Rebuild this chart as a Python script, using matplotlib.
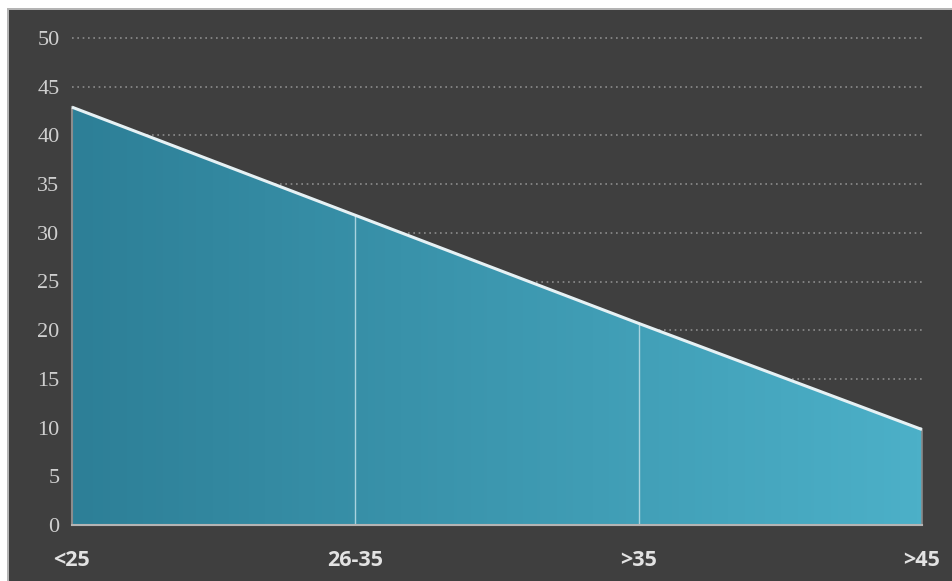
import numpy as np
import matplotlib
matplotlib.use("Agg")
import matplotlib.pyplot as plt
from matplotlib.patches import Rectangle, Polygon
from matplotlib.colors import LinearSegmentedColormap

# Age bands and their values
categories = ["<25", "26-35", ">35", ">45"]
values = [42.9, 31.8, 20.7, 9.8]
y_ticks = [0, 5, 10, 15, 20, 25, 30, 35, 40, 45, 50]

BG = "#3f3f3f"
W, H = 953, 581
fig = plt.figure(figsize=(W / 100, H / 100), dpi=100, facecolor=BG)

# Light frame strip along top and left edges
fig.patches.append(Rectangle((0, 1 - 8 / H), 1, 8 / H, transform=fig.transFigure,
                             facecolor="#ffffff", edgecolor="none", zorder=0))
fig.patches.append(Rectangle((0, 0), 7 / W, 1, transform=fig.transFigure,
                             facecolor="#ffffff", edgecolor="none", zorder=0))
fig.patches.append(Rectangle((7 / W, 0), 2 / W, 1 - 8 / H, transform=fig.transFigure,
                             facecolor="#b4b4b4", edgecolor="none", zorder=0))
fig.patches.append(Rectangle((7 / W, 1 - 10 / H), 1, 2 / H, transform=fig.transFigure,
                             facecolor="#b4b4b4", edgecolor="none", zorder=0))

left, right, bottom, top = 72, 922, 525, 38
ax = fig.add_axes([left / W, 1 - bottom / H, (right - left) / W, (bottom - top) / H])
ax.set_facecolor(BG)

x = np.arange(len(categories))
ax.set_xlim(x[0], x[-1])
ax.set_ylim(0, 50)

# Dotted horizontal gridlines
for yv in y_ticks[1:]:
    ax.axhline(yv, color="#8c8c8c", linewidth=1.2, linestyle=(0, (1, 2.2)), zorder=1, clip_on=False)

# Gradient-filled area under the line
cmap = LinearSegmentedColormap.from_list("teal", ["#2d7f97", "#4cb0c8"])
grad = np.linspace(0, 1, 256).reshape(1, -1)
img = ax.imshow(grad, cmap=cmap, aspect="auto", extent=[x[0], x[-1], 0, 50],
                origin="lower", zorder=2, interpolation="bilinear")
poly = Polygon(np.column_stack([np.r_[x, x[::-1]], np.r_[values, np.zeros(len(x))]]),
               closed=True, facecolor="none", edgecolor="none")
ax.add_patch(poly)
img.set_clip_path(poly)

# Thin separators inside the area at inner categories
for xi, v in zip(x[1:-1], values[1:-1]):
    ax.plot([xi, xi], [0, v], color="#a9d3df", linewidth=1.0, zorder=3)

# Outer edges of the area
ax.plot([x[0], x[0]], [0, values[0]], color="#8c8c8c", linewidth=1.5, zorder=3, clip_on=False)
ax.plot([x[-1], x[-1]], [0, values[-1]], color="#8a8a8a", linewidth=1.2, zorder=3, clip_on=False)

# Top line
ax.plot(x, values, color="#e6f1f4", linewidth=2.2, zorder=4, solid_capstyle="butt", clip_on=False)

for s in ["top", "right", "left"]:
    ax.spines[s].set_visible(False)
ax.spines["bottom"].set_color("#b4b4b4")
ax.spines["bottom"].set_linewidth(1.5)
ax.spines["bottom"].set_zorder(5)

ax.set_yticks(y_ticks)
ax.set_yticklabels([str(v) for v in y_ticks], family="Liberation Serif",
                   fontsize=16, color="#cfcfcf")
ax.set_xticks(x)
ax.set_xticklabels(categories, family="Open Sans", fontweight="bold",
                   fontsize=15.5, color="#e2e2e2")
ax.tick_params(axis="y", length=0, pad=9)
ax.tick_params(axis="x", length=0, pad=18)

fig.savefig("out.png", dpi=100, facecolor=BG)
